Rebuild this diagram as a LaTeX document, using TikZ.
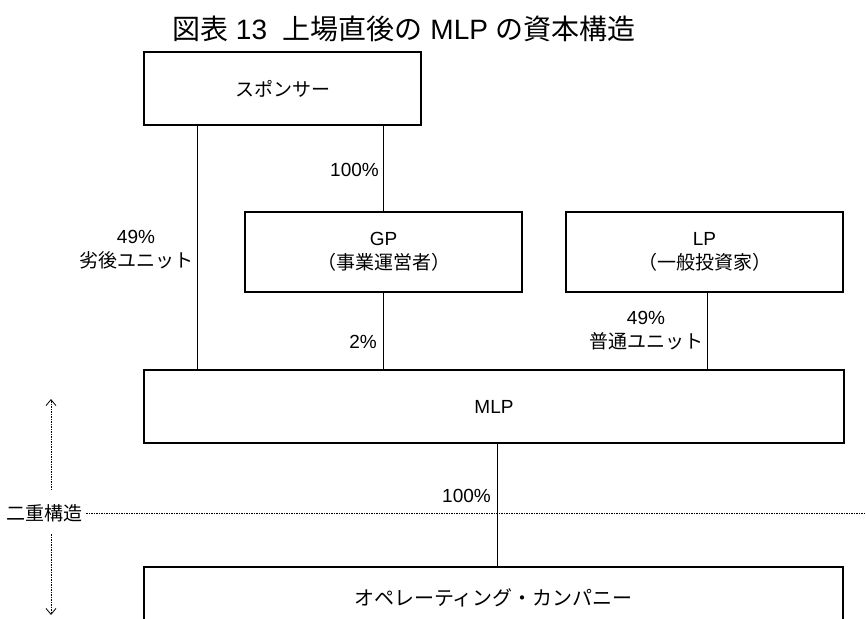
\documentclass[tikz,border=0pt]{standalone}
\usepackage{fontspec}
\setmainfont{Liberation Sans}
\newfontfamily\jp{Noto Sans CJK JP}
\usetikzlibrary{arrows.meta}
\begin{document}
\begin{tikzpicture}[x=1pt,y=-1pt,
  box/.style={draw=black,line width=1.2pt,fill=white,inner sep=0pt},
  conn/.style={draw=black,line width=0.9pt},
  lbl/.style={font=\fontsize{19}{24}\selectfont,inner sep=0pt,align=center},
  dotarrow/.style={line width=0.7pt,dash pattern=on 1.5pt off 1pt,-{Straight Barb[length=6pt,width=10pt,line width=0.8pt]}}]
\useasboundingbox (0,0) rectangle (866,618);
\clip (0,0) rectangle (866,618);
% title
\node[font=\fontsize{28}{32}\selectfont,inner sep=0pt] (title) at (404,29) {{\jp 図表} 13\ \ {\jp 上場直後の} MLP {\jp の資本構造}};
% boxes
\node[box,minimum width=277pt,minimum height=73pt] (spon) at (282.5,88.5) {};
\node[lbl] (spont) at (spon.center) {\jp スポンサー};
\node[box,minimum width=277pt,minimum height=80pt] (gp) at (383.5,252) {};
\node[lbl] (gpt) at (gp.center) {GP\\{\jp （事業運営者）}};
\node[box,minimum width=277pt,minimum height=80pt] (lp) at (704.5,252) {};
\node[lbl] (lpt) at (lp.center) {LP\\{\jp （一般投資家）}};
\node[box,minimum width=700pt,minimum height=73pt] (mlp) at (494,406.5) {};
\node[lbl] (mlpt) at (mlp.center) {MLP};
\node[box,minimum width=699pt,minimum height=80pt] (opco) at (493.5,607) {};
\node[lbl,font=\fontsize{20}{24}\selectfont] (opcot) at (493.5,598) {\jp オペレーティング・カンパニー};
% connectors
\coordinate (s1) at (197,125);
\coordinate (m1) at (197,370);
\draw[conn] (s1) -- (m1);
\coordinate (s2) at (383,125);
\coordinate (g2) at (383,212);
\draw[conn] (s2) -- (g2);
\coordinate (g3) at (383,292);
\coordinate (m3) at (383,370);
\draw[conn] (g3) -- (m3);
\coordinate (l4) at (707,292);
\coordinate (m4) at (707,370);
\draw[conn] (l4) -- (m4);
\coordinate (m5) at (497,443);
\coordinate (o5) at (497,567);
\draw[conn] (m5) -- (o5);
% labels
\node[lbl,anchor=east] (p100a) at (379,170) {100\%};
\node[lbl] (p49a) at (136,250) {49\%\\{\jp 劣後ユニット}};
\node[lbl,anchor=east] (p2) at (377,342) {2\%};
\node[lbl] (p49b) at (646,331) {49\%\\{\jp 普通ユニット}};
\node[lbl,anchor=east] (p100b) at (491,496) {100\%};
% double structure
\node[lbl,anchor=west] (dbl) at (6,513) {\jp 二重構造};
\coordinate (dr) at (866,513);
\draw[line width=0.6pt,dash pattern=on 1.5pt off 1pt] (dbl.east) ++(4pt,0) -- (dr);
\coordinate (au1) at (51,490);
\coordinate (au2) at (51,399);
\draw[dotarrow] (au1) -- (au2);
\coordinate (ad1) at (51,534);
\coordinate (ad2) at (51,615);
\draw[dotarrow] (ad1) -- (ad2);
\end{tikzpicture}
\end{document}
